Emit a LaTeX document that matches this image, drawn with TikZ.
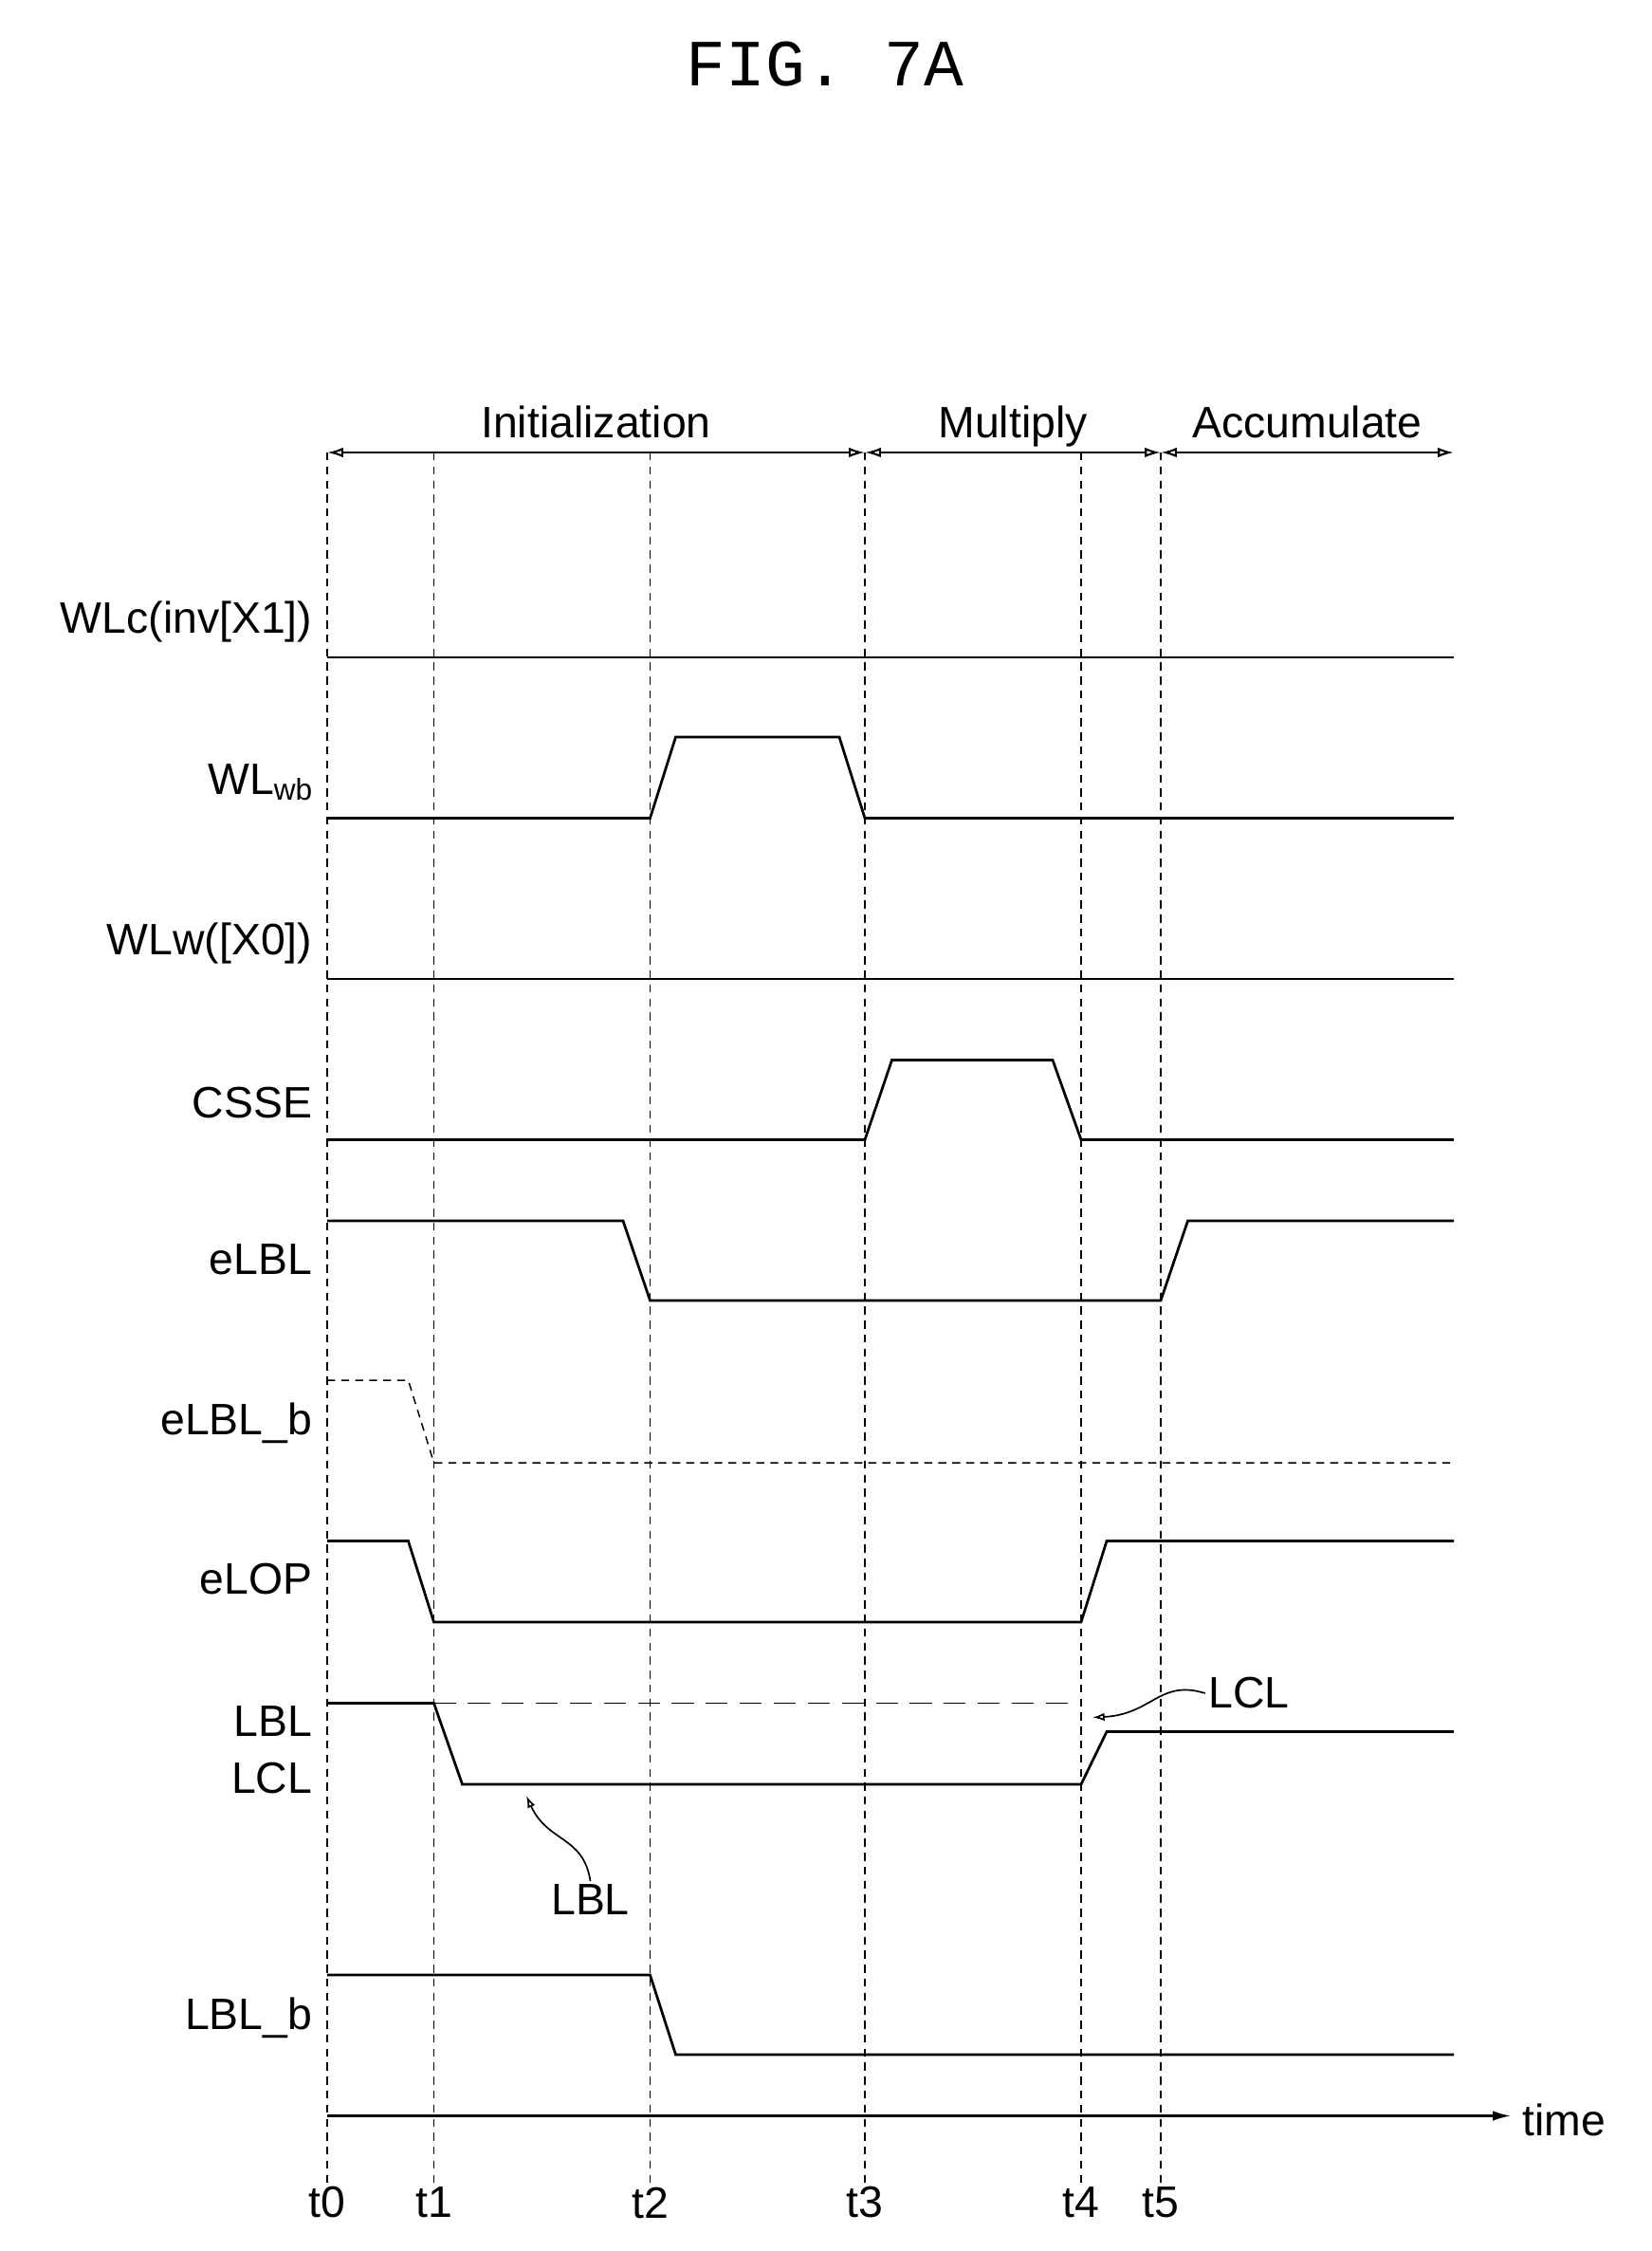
\documentclass[tikz,border=0pt]{standalone}
\usepackage{fontspec}
\setmainfont{Liberation Sans}
\newfontfamily\titlefont{Liberation Mono}
\usetikzlibrary{arrows.meta, positioning}
\tikzset{
    sig/.style = {line width=2.6pt},
    ref/.style = {line width=1.4pt, dash pattern=on 8pt off 6pt},
    lab/.style = {anchor=east, font=\fontsize{44}{50}\selectfont},
    tlab/.style = {font=\fontsize{44}{50}\selectfont},
    plab/.style = {tlab, above=14pt, inner sep=0pt, text depth=0pt},
    phase/.style = {line width=2pt, {Latex[open,length=16pt,width=10pt]}-{Latex[open,length=16pt,width=10pt]}}
}
\begin{document}
\begin{tikzpicture}[x=0.05cm, y=-0.05cm]
        \useasboundingbox (0,0) rectangle (1160.7,1582);
        
        %title
        
        \node(title) at (580,45) {\titlefont\fontsize{66}{74}\selectfont FIG. 7A};
        
        %time marks
        
        \foreach \n/\x in {0/230, 1/305, 2/457, 3/608, 4/760, 5/816} {
            \coordinate(top\n) at (\x,318);
            \coordinate(bot\n) at (\x,1535);
            \node[tlab](t\n) at (\x,1548) {t\n};
            \draw[ref] (top\n) -- (bot\n);
        }
        \coordinate(topR) at (1022,318);
        
        %phases
        
        \draw[phase] (top0) -- node[plab]{Initialization} (top3);
        \draw[phase] (top3) -- node[plab]{Multiply} (top5);
        \draw[phase] (top5) -- node[plab]{Accumulate} (topR);
        
        %labels
        
        \node[lab](wlc) at (222,437) {WLc(inv[X1])};
        \node[lab](wlwb) at (222,550) {WL\raisebox{-0.25ex}{\fontsize{30}{34}\selectfont wb}};
        \node[lab](wlw) at (222,663) {WLw([X0])};
        \node[lab](csse) at (222,775) {CSSE};
        \node[lab](elbl) at (222,885) {eLBL};
        \node[lab](elblb) at (222,1000) {eLBL\_b};
        \node[lab](elop) at (222,1110) {eLOP};
        \node[lab](lbl) at (222,1210) {LBL};
        \node[lab](lcl) at (222,1250) {LCL};
        \node[lab](lblb) at (222,1418) {LBL\_b};
        
        %signals
        
        \draw[sig] (230,462) -- (1022,462);
        \draw[sig] (230,575) -- (457,575) -- (475,518) -- (590,518) -- (608,575) -- (1022,575);
        \draw[sig] (230,688) -- (1022,688);
        \draw[sig] (230,801) -- (608,801) -- (627,745) -- (740,745) -- (760,801) -- (1022,801);
        \draw[sig] (230,858) -- (438,858) -- (457,914) -- (816,914) -- (835,858) -- (1022,858);
        \draw[ref] (230,970) -- (287,970) -- (305,1028) -- (1022,1028);
        \draw[sig] (230,1083) -- (287,1083) -- (305,1140) -- (760,1140) -- (778,1083) -- (1022,1083);
        \draw[sig] (230,1197) -- (305,1197) -- (325,1254) -- (760,1254) -- (778,1217) -- (1022,1217);
        \draw[ref, line width=1.8pt, dash pattern=on 22pt off 12pt] (305,1197) -- (760,1197);
        \draw[sig] (230,1388) -- (457,1388) -- (475,1444) -- (1022,1444);
        
        %annotations
        
        \node[tlab](lclnote) at (878,1190) {LCL};
        \node[tlab](lblnote) at (415,1335) {LBL};
        \draw[line width=1.6pt, -{Latex[open,length=12pt,width=8pt]}] (lclnote.west) .. controls (815,1180) and (810,1205) .. (768,1207);
        \draw[line width=1.6pt, -{Latex[open,length=12pt,width=8pt]}] (lblnote.north) .. controls (410,1290) and (385,1295) .. (370,1262);
        
        %time axis
        
        \coordinate(ax0) at (230,1487);
        \coordinate(ax1) at (1062,1487);
        \node[tlab, anchor=west](time) at (1068,1490) {time};
        \draw[line width=2pt, -{Latex[length=18pt,width=10pt]}] (ax0) -- (ax1);
    \end{tikzpicture}
\end{document}
